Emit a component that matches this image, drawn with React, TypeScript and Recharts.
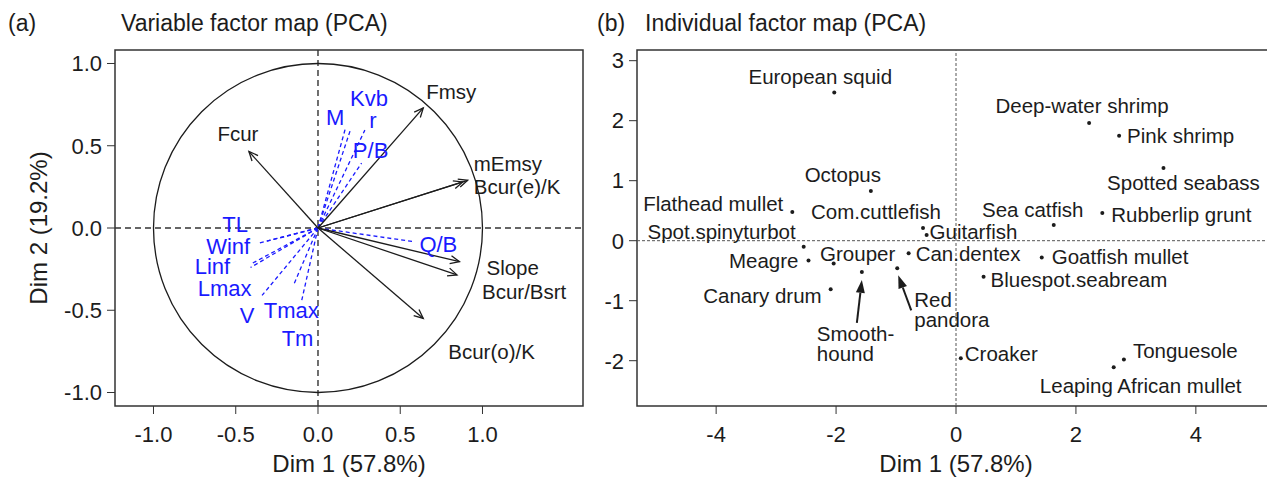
import React from "react";
import {
  ReferenceArea,
  ReferenceDot,
  ReferenceLine,
  Scatter,
  ScatterChart,
  XAxis,
  YAxis,
} from "recharts";

const FONT = '"Liberation Sans", Arial, Helvetica, sans-serif';
const INK = "#1c1c1c";
const BLUE = "#1a1aff";

// (a) active variables -> black arrows
const activeVars = ["Fcur", "Fmsy", "mEmsy", "Bcur(e)/K", "Slope", "Bcur/Bsrt", "Bcur(o)/K"];
const activeDim1 = [-0.42, 0.64, 0.91, 0.88, 0.86, 0.845, 0.64];
const activeDim2 = [0.465, 0.73, 0.29, 0.28, -0.205, -0.285, -0.55];

// (a) supplementary variables -> blue dashed
const suppVars = ["M", "Kvb", "r", "P/B", "Q/B", "TL", "Winf", "Linf", "Lmax", "V", "Tmax", "Tm"];
const suppDim1 = [0.165, 0.195, 0.285, 0.265, 0.58, -0.31, -0.37, -0.4, -0.41, -0.34, -0.15, -0.1];
const suppDim2 = [0.6, 0.59, 0.595, 0.395, -0.083, -0.08, -0.095, -0.215, -0.24, -0.41, -0.35, -0.445];

const corTicks = [-1, -0.5, 0, 0.5, 1];

// (b) individuals
const species = [
  "European squid", "Octopus", "Flathead mullet", "Com.cuttlefish", "Spot.spinyturbot",
  "Meagre", "Grouper", "Smooth-hound", "Red pandora", "Canary drum", "Can.dentex",
  "Guitarfish", "Croaker", "Goatfish mullet", "Bluespot.seabream", "Tonguesole",
  "Leaping African mullet", "Deep-water shrimp", "Pink shrimp", "Spotted seabass",
  "Rubberlip grunt", "Sea catfish",
];
const indDim1 = [-2.03, -1.42, -2.73, -0.55, -2.54, -2.46, -2.04, -1.57, -0.98, -2.09, -0.79, -0.49, 0.08, 1.43, 0.46, 2.8, 2.63, 2.22, 2.72, 3.46, 2.44, 1.63];
const indDim2 = [2.47, 0.83, 0.48, 0.21, -0.1, -0.33, -0.38, -0.52, -0.46, -0.81, -0.21, 0.095, -1.96, -0.28, -0.6, -1.98, -2.11, 1.96, 1.75, 1.21, 0.46, 0.26];

const indXTicks = [-4, -2, 0, 2, 4];
const indYTicks = [-2, -1, 0, 1, 2, 3];

const activeData = activeVars.map((name, i) => ({ name, x: activeDim1[i], y: activeDim2[i] }));
const suppData = suppVars.map((name, i) => ({ name, x: suppDim1[i], y: suppDim2[i] }));
const indData = species.map((name, i) => ({ name, x: indDim1[i], y: indDim2[i] }));

// label placement (pixel offsets from the point)
type Lab = { dx: number; dy: number; a: "start" | "middle" | "end" };
const activeLab: Record<string, Lab> = {
  Fcur: { dx: -11, dy: -18, a: "middle" },
  Fmsy: { dx: 3, dy: -16, a: "start" },
  mEmsy: { dx: 6, dy: -17, a: "start" },
  "Bcur(e)/K": { dx: 11, dy: 5, a: "start" },
  Slope: { dx: 27, dy: 6, a: "start" },
  "Bcur/Bsrt": { dx: 25, dy: 17, a: "start" },
  "Bcur(o)/K": { dx: 25, dy: 33, a: "start" },
};
const suppLab: Record<string, Lab> = {
  M: { dx: -10, dy: -12, a: "middle" },
  Kvb: { dx: 19, dy: -33, a: "middle" },
  r: { dx: 8, dy: -10, a: "middle" },
  "P/B": { dx: 9, dy: -13, a: "middle" },
  "Q/B": { dx: 6, dy: 2, a: "start" },
  TL: { dx: -19, dy: -17, a: "end" },
  Winf: { dx: -7, dy: 2, a: "end" },
  Linf: { dx: -22, dy: 3, a: "end" },
  Lmax: { dx: 1, dy: 21, a: "end" },
  V: { dx: -15, dy: 20, a: "middle" },
  Tmax: { dx: -2, dy: 25, a: "middle" },
  Tm: { dx: -4, dy: 37, a: "middle" },
};
const indLab: Record<string, Lab> = {
  "European squid": { dx: -14, dy: -16, a: "middle" },
  Octopus: { dx: -28, dy: -16, a: "middle" },
  "Flathead mullet": { dx: -9, dy: -8, a: "end" },
  "Com.cuttlefish": { dx: -47, dy: -16, a: "middle" },
  "Spot.spinyturbot": { dx: -8, dy: -15, a: "end" },
  Meagre: { dx: -10, dy: 0, a: "end" },
  Grouper: { dx: 24, dy: -10, a: "middle" },
  "Canary drum": { dx: -9, dy: 6, a: "end" },
  "Can.dentex": { dx: 7, dy: 0, a: "start" },
  Guitarfish: { dx: 3, dy: -3, a: "start" },
  Croaker: { dx: 4, dy: -5, a: "start" },
  "Goatfish mullet": { dx: 10, dy: -1, a: "start" },
  "Bluespot.seabream": { dx: 7, dy: 3, a: "start" },
  Tonguesole: { dx: 9, dy: -9, a: "start" },
  "Leaping African mullet": { dx: 27, dy: 18, a: "middle" },
  "Deep-water shrimp": { dx: -7, dy: -17, a: "middle" },
  "Pink shrimp": { dx: 8, dy: 0, a: "start" },
  "Spotted seabass": { dx: 20, dy: 15, a: "middle" },
  "Rubberlip grunt": { dx: 9, dy: 2, a: "start" },
  "Sea catfish": { dx: -21, dy: -15, a: "middle" },
};
// two individuals labelled with a pointer arrow
const callouts: Record<string, { lines: string[]; dx: number; dy: number; tail: number[]; head: number[] }> = {
  "Smooth-hound": { lines: ["Smooth-", "hound"], dx: -45, dy: 62, tail: [-5, 51], head: [0, 8] },
  "Red pandora": { lines: ["Red", "pandora"], dx: 17, dy: 32, tail: [14, 42], head: [1, 7] },
};

// panel geometry
const A_W = 600, A_H = 478;
const A_MARGIN = { top: 50, right: 17, bottom: 0, left: 45 };
const A_YW = 70, A_XH = 72;
const A_X: [number, number] = [-1.234, 1.611];
const A_Y: [number, number] = [-1.082, 1.082];
const A_PLOT_W = A_W - A_MARGIN.left - A_MARGIN.right - A_YW;
const unitPx = A_PLOT_W / (A_X[1] - A_X[0]);

const B_LEFT = 560, B_W = 735, B_H = 478;
const B_MARGIN = { top: 50, right: 20, bottom: 0, left: 7 };
const B_X: [number, number] = [-5.32, 5.32];
const B_Y: [number, number] = [-2.755, 3.178];

const tickStyle = { fill: INK, fontSize: 22, fontFamily: FONT };

const Arrow = (p: any) => {
  const { x1, y1, x2, y2 } = p;
  const ang = Math.atan2(y2 - y1, x2 - x1);
  const L = 10, s = Math.PI / 7.5;
  const ax = x2 - L * Math.cos(ang - s), ay = y2 - L * Math.sin(ang - s);
  const bx = x2 - L * Math.cos(ang + s), by = y2 - L * Math.sin(ang + s);
  return (
    <g stroke={INK} strokeWidth={1.3} fill="none">
      <line x1={x1} y1={y1} x2={x2} y2={y2} />
      <path d={`M${ax},${ay} L${x2},${y2} L${bx},${by}`} />
    </g>
  );
};

const labelShape = (map: Record<string, Lab>, size: number, color: string) => (p: any) => {
  const l = map[p.payload.name];
  return (
    <text
      x={p.cx + l.dx}
      y={p.cy + l.dy + size * 0.36}
      textAnchor={l.a}
      fontSize={size}
      fontFamily={FONT}
      fill={color}
    >
      {p.payload.name}
    </text>
  );
};

const IndPoint = (p: any) => {
  const name = p.payload.name;
  const c = callouts[name];
  if (c) {
    const tx = p.cx + c.tail[0], ty = p.cy + c.tail[1];
    const hx = p.cx + c.head[0], hy = p.cy + c.head[1];
    const ang = Math.atan2(hy - ty, hx - tx);
    const L = 13, W = 4.5;
    const bx = hx - L * Math.cos(ang), by = hy - L * Math.sin(ang);
    const nx = -Math.sin(ang) * W, ny = Math.cos(ang) * W;
    return (
      <g>
        <circle cx={p.cx} cy={p.cy} r={2} fill={INK} />
        <line x1={tx} y1={ty} x2={bx} y2={by} stroke={INK} strokeWidth={2} />
        <path d={`M${hx},${hy} L${bx + nx},${by + ny} L${bx - nx},${by - ny} Z`} fill={INK} />
        {c.lines.map((t, i) => (
          <text key={t} x={p.cx + c.dx} y={p.cy + c.dy + i * 20 + 7} fontSize={20.5} fontFamily={FONT} fill={INK}>
            {t}
          </text>
        ))}
      </g>
    );
  }
  const l = indLab[name];
  return (
    <g>
      <circle cx={p.cx} cy={p.cy} r={2} fill={INK} />
      <text x={p.cx + l.dx} y={p.cy + l.dy + 7.4} textAnchor={l.a} fontSize={20.5} fontFamily={FONT} fill={INK}>
        {name}
      </text>
    </g>
  );
};

function VariableMap() {
  return (
    <ScatterChart width={A_W} height={A_H} margin={A_MARGIN}>
      <XAxis
        type="number"
        dataKey="x"
        domain={A_X}
        ticks={corTicks}
        allowDataOverflow
        axisLine={false}
        tickLine={{ stroke: "#333" }}
        tickSize={8}
        tickMargin={12}
        height={A_XH}
        tick={tickStyle}
        tickFormatter={(v: number) => v.toFixed(1)}
      />
      <YAxis
        type="number"
        dataKey="y"
        domain={A_Y}
        ticks={corTicks}
        allowDataOverflow
        axisLine={false}
        tickLine={{ stroke: "#333" }}
        tickSize={8}
        tickMargin={5}
        width={A_YW}
        tick={tickStyle}
        tickFormatter={(v: number) => v.toFixed(1)}
      />
      <ReferenceArea x1={A_X[0]} x2={A_X[1]} y1={A_Y[0]} y2={A_Y[1]} fill="none" stroke="#333" strokeWidth={1.5} fillOpacity={0} ifOverflow="visible" />
      <ReferenceLine x={0} stroke="#333" strokeWidth={1.4} strokeDasharray="6 4" />
      <ReferenceLine y={0} stroke="#333" strokeWidth={1.4} strokeDasharray="6 4" />
      <ReferenceDot x={0} y={0} r={unitPx} fill="none" stroke={INK} strokeWidth={1.3} ifOverflow="visible" />
      {suppData.map((d) => (
        <ReferenceLine
          key={"s" + d.name}
          segment={[{ x: 0, y: 0 }, { x: d.x, y: d.y }]}
          stroke={BLUE}
          strokeWidth={1.3}
          strokeDasharray="4 3"
          ifOverflow="visible"
        />
      ))}
      {activeData.map((d) => (
        <ReferenceLine
          key={"a" + d.name}
          segment={[{ x: 0, y: 0 }, { x: d.x, y: d.y }]}
          shape={Arrow}
          ifOverflow="visible"
        />
      ))}
      <Scatter data={activeData} shape={labelShape(activeLab, 20.5, INK)} isAnimationActive={false} />
      <Scatter data={suppData} shape={labelShape(suppLab, 22, BLUE)} isAnimationActive={false} />
    </ScatterChart>
  );
}

function IndividualMap() {
  return (
    <ScatterChart width={B_W} height={B_H} margin={B_MARGIN}>
      <XAxis
        type="number"
        dataKey="x"
        domain={B_X}
        ticks={indXTicks}
        allowDataOverflow
        axisLine={false}
        tickLine={{ stroke: "#333" }}
        tickSize={8}
        tickMargin={12}
        height={A_XH}
        tick={tickStyle}
      />
      <YAxis
        type="number"
        dataKey="y"
        domain={B_Y}
        ticks={indYTicks}
        allowDataOverflow
        axisLine={false}
        tickLine={{ stroke: "#333" }}
        tickSize={8}
        tickMargin={5}
        width={A_YW}
        tick={tickStyle}
      />
      <ReferenceArea x1={B_X[0]} x2={B_X[1]} y1={B_Y[0]} y2={B_Y[1]} fill="none" stroke="#333" strokeWidth={1.5} fillOpacity={0} ifOverflow="visible" />
      <ReferenceLine x={0} stroke="#555" strokeWidth={1} strokeDasharray="3 2" />
      <ReferenceLine y={0} stroke="#555" strokeWidth={1} strokeDasharray="3 2" />
      <Scatter data={indData} shape={IndPoint} isAnimationActive={false} />
    </ScatterChart>
  );
}

export default function App() {
  const t = { fontFamily: FONT, fill: INK };
  return (
    <div style={{ position: "absolute", left: 0, top: 0, width: 1267, height: 478, overflow: "hidden", background: "#fff" }}>
      <div style={{ position: "absolute", left: 0, top: 0 }}>
        <VariableMap />
      </div>
      <div style={{ position: "absolute", left: B_LEFT, top: 0 }}>
        <IndividualMap />
      </div>
      <svg width={1267} height={478} style={{ position: "absolute", left: 0, top: 0, pointerEvents: "none" }}>
        <text x={8} y={31} fontSize={23} {...t}>(a)</text>
        <text x={121} y={31} fontSize={23} {...t}>Variable factor map (PCA)</text>
        <text x={597} y={31} fontSize={23} {...t}>(b)</text>
        <text x={645} y={31} fontSize={23} {...t}>Individual factor map (PCA)</text>
        <text x={349} y={472} fontSize={24} textAnchor="middle" {...t}>Dim 1 (57.8%)</text>
        <text x={956} y={472} fontSize={24} textAnchor="middle" {...t}>Dim 1 (57.8%)</text>
        <text transform="translate(38,228) rotate(-90)" fontSize={24} textAnchor="middle" dominantBaseline="central" {...t}>
          Dim 2 (19.2%)
        </text>
      </svg>
    </div>
  );
}
